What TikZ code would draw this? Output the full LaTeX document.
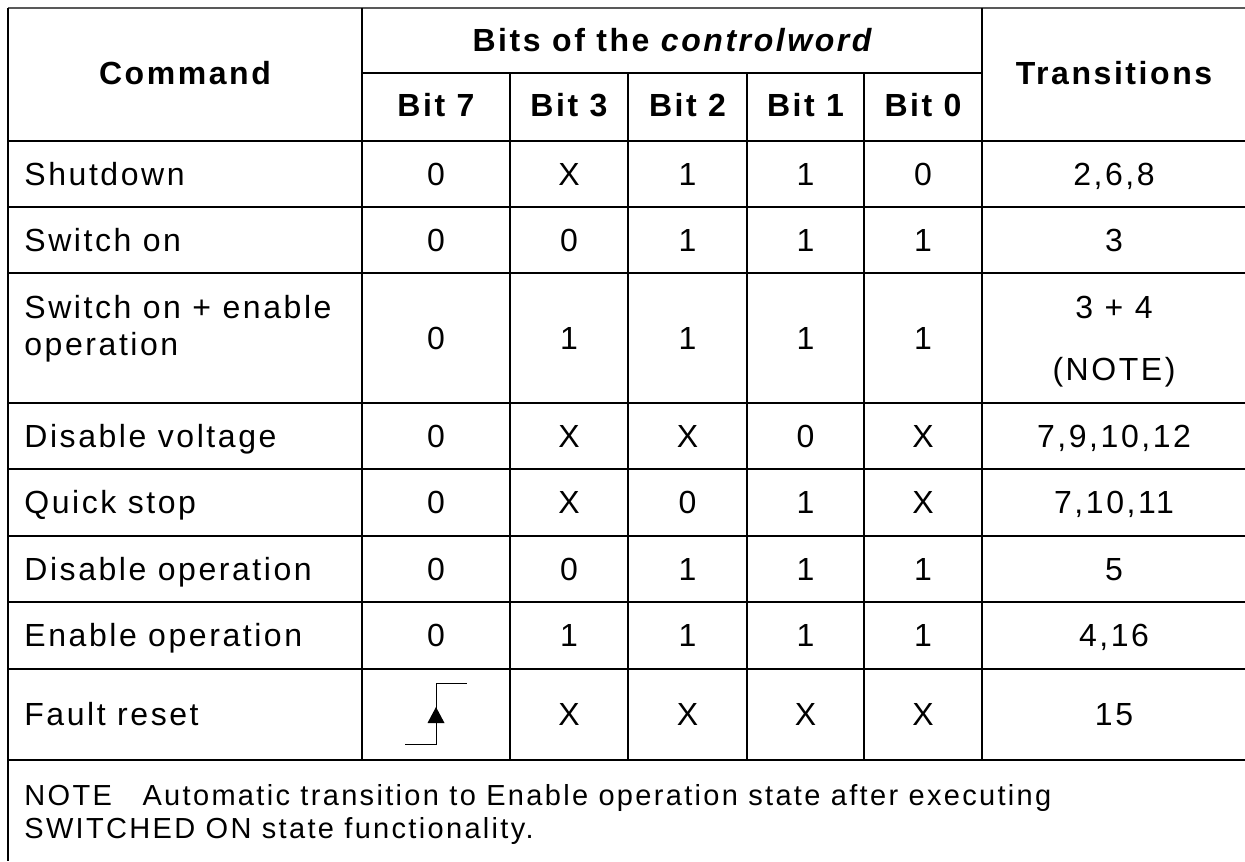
\documentclass[tikz,border=0pt]{standalone}
\usepackage{fontspec}
\setmainfont[LetterSpace=8]{Liberation Sans}
\begin{document}
\begin{tikzpicture}[x=0.5pt,y=-0.5pt,
	rule/.style={line width=1.2pt},
	cell/.style={anchor=base,inner sep=0pt,font=\fontsize{16}{19}\selectfont},
	head/.style={cell,font=\fontsize{16}{19}\selectfont\bfseries},
	cmd/.style={cell,anchor=base west},
	notetext/.style={anchor=base west,inner sep=0pt,font=\fontsize{14.5}{17}\selectfont}]
	\useasboundingbox (0,0) rectangle (1245,861);
	% rules of the table
	\draw[rule,black!65] (8,8) -- (1245,8);
	\draw[rule] (362,73) -- (982,73);
	\foreach \y in {141,207,273,403,469,536,602,669,760}
		\draw[rule] (8,\y) -- (1245,\y);
	\draw[rule] (8,8) -- (8,861);
	\foreach \x in {362,982}
		\draw[rule] (\x,8) -- (\x,760);
	\foreach \x in {510,628,747,864}
		\draw[rule] (\x,73) -- (\x,760);
	% header
	\node[head] (command) at (185,85) {Command};
	\node[head] (bits) at (672,52) {Bits of the \itshape controlword};
	\node[head] (transitions) at (1114,85) {Transitions};
	\foreach \n/\x in {7/436,3/569,2/687.5,1/805.5,0/923}
		\node[head] (bit\n) at (\x,117) {Bit \n};
	% rows
	\foreach \name/\y/\a/\b/\c/\d/\e/\t [count=\i] in {
		Shutdown/185/0/X/1/1/0/{2,6,8},
		Switch on/251/0/0/1/1/1/3,
		{}/349/0/1/1/1/1/{},
		Disable voltage/447/0/X/X/0/X/{7,9,10,12},
		Quick stop/513.5/0/X/0/1/X/{7,10,11},
		Disable operation/580/0/0/1/1/1/5,
		Enable operation/646.5/0/1/1/1/1/{4,16},
		Fault reset/725.5/{}/X/X/X/X/15}{
		\node[cmd] (cmd\i) at (24,\y) {\name};
		\node[cell] (b7-\i) at (436,\y) {\a};
		\node[cell] (b3-\i) at (569,\y) {\b};
		\node[cell] (b2-\i) at (687.5,\y) {\c};
		\node[cell] (b1-\i) at (805.5,\y) {\d};
		\node[cell] (b0-\i) at (923,\y) {\e};
		\node[cell] (tr\i) at (1114,\y) {\t};
	}
	\node[cmd] (cmd3a) at (24,318) {Switch on + enable};
	\node[cmd] (cmd3b) at (24,355) {operation};
	\node[cell] (tr3a) at (1114,318) {3 + 4};
	\node[cell] (tr3b) at (1114,380) {(NOTE)};
	% rising edge in bit 7 of fault reset
	\coordinate (edge) at (436,714);
	\draw[line width=0.5pt] (405,744) -- (436,744) -- (436,683) -- (467,683);
	\fill (436,707) -- (444.5,723) -- (427.5,723) -- cycle;
	% note
	\node[notetext] (note) at (24,805) {NOTE\hspace{0.7em} Automatic transition to Enable operation state after executing};
	\node[notetext] (note2) at (24,838) {SWITCHED ON state functionality.};
\end{tikzpicture}
\end{document}
